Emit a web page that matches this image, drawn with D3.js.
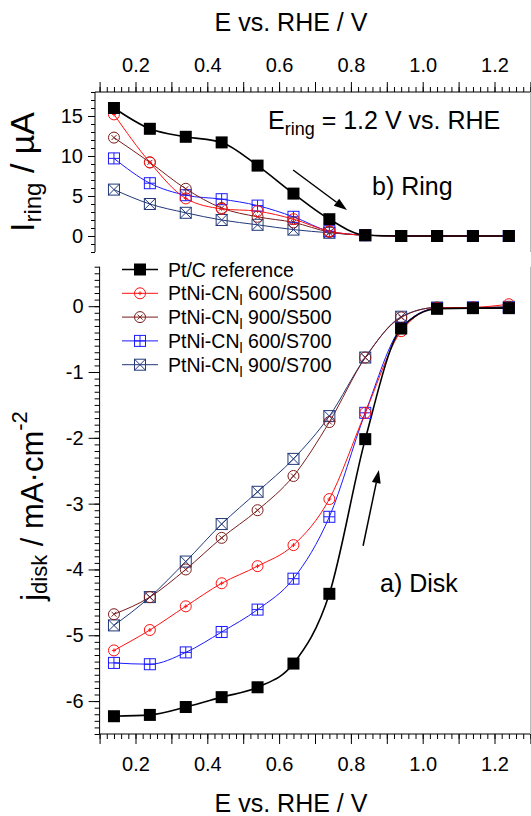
<!DOCTYPE html>
<html>
<head>
<meta charset="utf-8">
<script src="https://cdn.jsdelivr.net/npm/d3@7"></script>
<style>
  body { margin: 0; background: #fff; }
  svg { display: block; font-family: "Liberation Sans", Arial, sans-serif; }
  .axis text { font-size: 20px; fill: #000; }
  .axis line { stroke: #000; }
</style>
</head>
<body>
<div id="viz"></div>
<script>
// potentials (V vs RHE)
const potential = [0.14, 0.24, 0.34, 0.44, 0.54, 0.64, 0.74, 0.84, 0.94, 1.04, 1.14, 1.24];

// ring currents, uA
const ringPtC   = [16.0, 13.4, 12.4, 11.7, 8.8, 5.3, 2.1, 0.1, 0, 0, 0, 0];
const ring600S5 = [15.2, 9.2, 4.7, 3.4, 3.1, 2.1, 0.6, 0.1, 0, 0, 0, 0];
const ring900S5 = [12.3, 9.2, 5.9, 3.5, 2.4, 1.7, 0.5, 0.1, 0, 0, 0, 0];
const ring600S7 = [9.7, 6.6, 5.1, 4.6, 3.8, 2.4, 0.6, 0.1, 0, 0, 0, 0];
const ring900S7 = [5.8, 4.0, 2.9, 2.0, 1.4, 0.8, 0.4, 0.1, 0, 0, 0, 0];

// disk current densities, mA/cm2
const diskPtC   = [-6.23, -6.21, -6.09, -5.94, -5.79, -5.43, -4.37, -2.02, -0.34, -0.04, -0.03, -0.03];
const disk600S5 = [-5.23, -4.92, -4.56, -4.21, -3.95, -3.63, -2.93, -1.62, -0.38, -0.03, -0.02, 0.03];
const disk900S5 = [-4.68, -4.42, -4.00, -3.52, -3.10, -2.58, -1.76, -0.78, -0.17, -0.02, -0.02, -0.01];
const disk600S7 = [-5.42, -5.44, -5.26, -4.95, -4.61, -4.14, -3.20, -1.62, -0.33, -0.03, -0.02, -0.02];
const disk900S7 = [-4.85, -4.42, -3.88, -3.31, -2.82, -2.32, -1.67, -0.78, -0.16, -0.02, -0.02, -0.01];

const seriesNames = ["Pt/C reference", "600/S500", "900/S500", "600/S700", "900/S700"];
const seriesColors = ["#000000", "#ff1010", "#7a1c1c", "#1a1aff", "#22397a"];
const seriesMarkers = ["sqFill", "circPlus", "circX", "sqPlus", "sqX"];
const ringData = [ringPtC, ring600S5, ring900S5, ring600S7, ring900S7];
const diskData = [diskPtC, disk600S5, disk900S5, disk600S7, disk900S7];

const xTicksMajor = [0.1, 0.2, 0.3, 0.4, 0.5, 0.6, 0.7, 0.8, 0.9, 1.0, 1.1, 1.2, 1.3];
const xTickLabels = [0.2, 0.4, 0.6, 0.8, 1.0, 1.2];
const ringTicks = [0, 5, 10, 15];
const diskTicks = [0, -1, -2, -3, -4, -5, -6];

const W = 531, H = 816;
const svg = d3.select('#viz').append('svg').attr('width', W).attr('height', H);

const x = d3.scaleLinear().domain([0.1, 1.3]).range([99.6, 530.4]);
const yTop = d3.scaleLinear().domain([-2, 18]).range([252, 92]);
const yBot = d3.scaleLinear().domain([-6.5, 0.6]).range([734, 266.7]);

const fmt = d3.format('.1f');

// ---- top panel axes
const minorX = d3.range(0, 61).map(i => 0.1 + i * 0.02).filter(v => v <= 1.301);
svg.append('g').attr('class', 'axis').attr('transform', 'translate(0,92)')
  .call(d3.axisTop(x).tickValues(minorX).tickSize(5).tickFormat(''))
  .call(g => g.select('.domain').remove());
svg.append('g').attr('class', 'axis').attr('transform', 'translate(0,92)')
  .call(d3.axisTop(x).tickValues(xTicksMajor).tickSize(10).tickPadding(10)
    .tickFormat(d => xTickLabels.some(v => Math.abs(v - d) < 1e-6) ? fmt(d) : ''))
  .call(g => g.select('.domain').remove());
svg.append('line').attr('x1', 95).attr('x2', W).attr('y1', 92).attr('y2', 92).attr('stroke', '#000');

svg.append('g').attr('class', 'axis').attr('transform', 'translate(95,0)')
  .call(d3.axisLeft(yTop).tickValues(d3.range(-2, 19, 1)).tickSize(4).tickFormat(''))
  .call(g => g.select('.domain').remove());
svg.append('g').attr('class', 'axis').attr('transform', 'translate(95,0)')
  .call(d3.axisLeft(yTop).tickValues(ringTicks).tickSize(7).tickPadding(5).tickFormat(d => String(d)))
  .call(g => g.select('.domain').remove());
svg.append('line').attr('x1', 95).attr('x2', 95).attr('y1', 92).attr('y2', 252).attr('stroke', '#000');

// ---- bottom panel axes
svg.append('g').attr('class', 'axis').attr('transform', 'translate(0,734)')
  .call(d3.axisBottom(x).tickValues(minorX).tickSize(5).tickFormat(''))
  .call(g => g.select('.domain').remove());
svg.append('g').attr('class', 'axis').attr('transform', 'translate(0,734)')
  .call(d3.axisBottom(x).tickValues(xTicksMajor).tickSize(10).tickPadding(13)
    .tickFormat(d => xTickLabels.some(v => Math.abs(v - d) < 1e-6) ? fmt(d) : ''))
  .call(g => g.select('.domain').remove());
svg.append('line').attr('x1', 99.6).attr('x2', W).attr('y1', 734).attr('y2', 734).attr('stroke', '#000');

const minorY = d3.range(0, 72).map(i => -6.5 + i * 0.1).filter(v => v <= 0.601);
svg.append('g').attr('class', 'axis').attr('transform', 'translate(99.6,0)')
  .call(d3.axisLeft(yBot).tickValues(minorY).tickSize(5).tickFormat(''))
  .call(g => g.select('.domain').remove());
svg.append('g').attr('class', 'axis').attr('transform', 'translate(99.6,0)')
  .call(d3.axisLeft(yBot).tickValues(diskTicks).tickSize(11).tickPadding(5).tickFormat(d => String(d)))
  .call(g => g.select('.domain').remove());
svg.append('line').attr('x1', 99.6).attr('x2', 99.6).attr('y1', 266.7).attr('y2', 734).attr('stroke', '#000');

// light right frame
svg.append('line').attr('x1', 530.5).attr('x2', 530.5).attr('y1', 92).attr('y2', 252).attr('stroke', '#bbb');
svg.append('line').attr('x1', 530.5).attr('x2', 530.5).attr('y1', 266.7).attr('y2', 734).attr('stroke', '#bbb');

// ---- markers
function marker(g, type, color, cx, cy) {
  const m = g.append('g').attr('transform', `translate(${cx},${cy})`)
    .attr('stroke', color).attr('fill', 'none').attr('stroke-width', 1);
  if (type === 'sqFill') {
    m.append('rect').attr('x', -6).attr('y', -6).attr('width', 12).attr('height', 12)
      .attr('fill', color).attr('stroke', 'none');
  } else if (type === 'circPlus') {
    m.append('circle').attr('r', 5.5);
    m.append('path').attr('d', 'M-2,0H2M0,-2V2');
  } else if (type === 'circX') {
    m.append('circle').attr('r', 5.5);
    m.append('path').attr('d', 'M-2.5,-2.5L2.5,2.5M-2.5,2.5L2.5,-2.5');
  } else if (type === 'sqPlus') {
    m.append('rect').attr('x', -5.5).attr('y', -5.5).attr('width', 11).attr('height', 11);
    m.append('path').attr('d', 'M-5.5,0H5.5M0,-5.5V5.5');
  } else if (type === 'sqX') {
    m.append('rect').attr('x', -5.5).attr('y', -5.5).attr('width', 11).attr('height', 11);
    m.append('path').attr('d', 'M-5.5,-5.5L5.5,5.5M-5.5,5.5L5.5,-5.5');
  }
}

function drawPanel(data, y) {
  const line = d3.line().x((d, i) => x(potential[i])).y(d => y(d)).curve(d3.curveMonotoneX);
  const order = [4, 3, 2, 1, 0];
  order.forEach(k => {
    svg.append('path').datum(data[k]).attr('d', line)
      .attr('fill', 'none').attr('stroke', seriesColors[k])
      .attr('stroke-width', k === 0 ? 1.6 : 1);
  });
  order.forEach(k => {
    const g = svg.append('g');
    data[k].forEach((v, i) => marker(g, seriesMarkers[k], seriesColors[k], x(potential[i]), y(v)));
  });
}
drawPanel(ringData, yTop);
drawPanel(diskData, yBot);

// ---- legend
const legend = svg.append('g');
seriesNames.forEach((name, k) => {
  const cy = 269.5 + k * 23.8;
  legend.append('line').attr('x1', 122).attr('x2', 158).attr('y1', cy).attr('y2', cy)
    .attr('stroke', seriesColors[k]).attr('stroke-width', k === 0 ? 1.6 : 1);
  marker(legend, seriesMarkers[k], seriesColors[k], 140, cy);
  const t = legend.append('text').attr('x', 168).attr('y', cy + 7).attr('font-size', 19.5);
  if (k === 0) {
    t.text(name);
  } else {
    t.append('tspan').text('PtNi-CN');
    t.append('tspan').attr('font-size', 14).attr('dy', 5).text('l');
    t.append('tspan').attr('dy', -5).text(' ' + name);
  }
});

// ---- axis titles
svg.append('text').attr('x', 291).attr('y', 31).attr('text-anchor', 'middle')
  .attr('font-size', 25).text('E vs. RHE / V');
svg.append('text').attr('x', 291).attr('y', 812).attr('text-anchor', 'middle')
  .attr('font-size', 25).text('E vs. RHE / V');

const tTop = svg.append('text').attr('transform', 'translate(34,172) rotate(-90)')
  .attr('text-anchor', 'middle').attr('font-size', 34);
tTop.append('tspan').text('I');
tTop.append('tspan').attr('font-size', 24).attr('dy', 7).text('ring');
tTop.append('tspan').attr('dy', -7).text(' / \u00b5A');

const tBot = svg.append('text').attr('transform', 'translate(43,506) rotate(-90)')
  .attr('text-anchor', 'middle').attr('font-size', 31);
tBot.append('tspan').text('j');
tBot.append('tspan').attr('font-size', 22).attr('dy', 4).text('disk');
tBot.append('tspan').attr('dy', -4).text(' / mA\u00b7cm');
tBot.append('tspan').attr('font-size', 22).attr('dy', -16).text('-2');

// ---- annotations
const ann1 = svg.append('text').attr('x', 268).attr('y', 129).attr('font-size', 25);
ann1.append('tspan').text('E');
ann1.append('tspan').attr('font-size', 18).attr('dy', 6).text('ring');
ann1.append('tspan').attr('dy', -6).text(' = 1.2 V vs. RHE');

svg.append('text').attr('x', 372).attr('y', 195).attr('font-size', 25).text('b) Ring');
svg.append('text').attr('x', 380).attr('y', 592).attr('font-size', 25).text('a) Disk');

function arrow(x0, y0, x1, y1) {
  const ang = Math.atan2(y1 - y0, x1 - x0);
  const L = 13, w = 4.5;
  const bx = x1 - L * Math.cos(ang), by = y1 - L * Math.sin(ang);
  svg.append('line').attr('x1', x0).attr('y1', y0).attr('x2', bx).attr('y2', by)
    .attr('stroke', '#000').attr('stroke-width', 1.5);
  svg.append('path').attr('fill', '#000')
    .attr('d', `M${x1},${y1}L${bx - w * Math.sin(ang)},${by + w * Math.cos(ang)}L${bx + w * Math.sin(ang)},${by - w * Math.cos(ang)}Z`);
}
arrow(x(0.639), yTop(8.25), x(0.789), yTop(3.25));
arrow(x(0.834), yBot(-3.64), x(0.878), yBot(-2.49));
</script>
</body>
</html>
